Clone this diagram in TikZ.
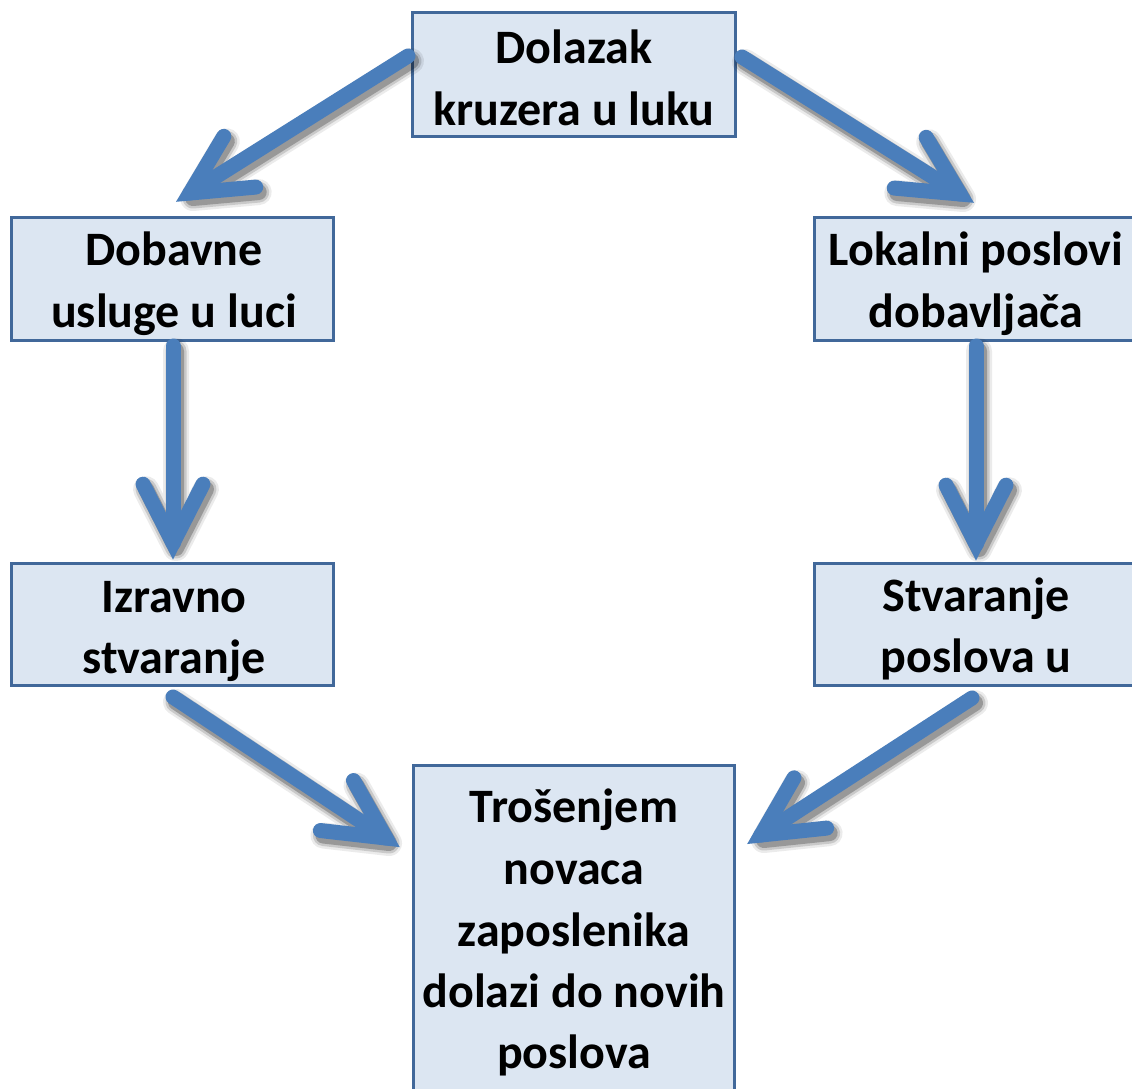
\documentclass[tikz,border=0pt]{standalone}
\usepackage{fontspec}
\setmainfont{Carlito}
\usetikzlibrary{calc}
\definecolor{boxfill}{HTML}{DCE6F2}
\definecolor{boxline}{HTML}{41689A}
\definecolor{arrblue}{HTML}{4A7EBB}
\tikzset{
  box/.style={draw=boxline, line width=3pt, fill=boxfill, inner sep=0pt, rectangle},
  lbl/.style={font=\bfseries\fontsize{48}{62}\selectfont, anchor=base, inner sep=0pt, text=black},
  arr/.style={draw=arrblue, line width=15pt, line cap=round, line join=miter},
  shad/.style={draw=black, line cap=round, line join=round},
}
\newcommand\fatarrow[2]{%
  \foreach \w/\o in {26/0.08,21/0.14,16/0.24}{%
    \draw[shad, line width=\w pt, opacity=\o, transform canvas={shift={(3pt,-5pt)}}]
      (#1) -- (#2) ($(#2)!66pt!27:(#1)$) -- (#2) -- ($(#2)!66pt!-27:(#1)$);}
  \draw[arr] (#1) -- (#2);
  \draw[arr] ($(#2)!66pt!27:(#1)$) -- (#2) -- ($(#2)!66pt!-27:(#1)$);
}
\begin{document}
\begin{tikzpicture}[x=1pt,y=-1pt]
\useasboundingbox (0,0) rectangle (1132,1088);
\clip (0,0) rectangle (1132,1088);
\fill[white] (0,0) rectangle (1132,1088);

% boxes
\node[box, minimum width=323pt, minimum height=124pt] (top) at (573.5,74.5) {};
\node[box, minimum width=322pt, minimum height=123pt] (dob) at (172,278.5) {};
\node[box, minimum width=322pt, minimum height=122pt] (izr) at (172,624) {};
\node[box, minimum width=330pt, minimum height=123pt] (lok) at (979,278.5) {};
\node[box, minimum width=330pt, minimum height=122pt] (stv) at (979,624) {};
\node[box, minimum width=321pt, minimum height=345pt] (bot) at (573.5,937.5) {};

% texts
\node[lbl] (topa) at (574,63) {Dolazak};
\node[lbl] (topb) at (574,125) {kruzera u luku};
\node[lbl] (doba) at (174,265) {Dobavne};
\node[lbl] (dobb) at (174,327) {usluge u luci};
\node[lbl] (izra) at (174,612) {Izravno};
\node[lbl] (izrb) at (174,673) {stvaranje};
\node[lbl] (loka) at (976,265) {Lokalni poslovi};
\node[lbl] (lokb) at (976,327) {dobavljača};
\node[lbl] (stva) at (976,611) {Stvaranje};
\node[lbl] (stvb) at (976,672) {poslova u};
\node[lbl] (bota) at (574,822) {Trošenjem};
\node[lbl] (botb) at (574,884) {novaca};
\node[lbl] (botc) at (574,946) {zaposlenika};
\node[lbl] (botd) at (574,1007) {dolazi do novih};
\node[lbl] (bote) at (574,1068) {poslova};

% arrow end points
\coordinate (a1s) at (408,56);  \coordinate (a1t) at (190,193);
\coordinate (a2s) at (742,57);  \coordinate (a2t) at (960,194);
\coordinate (a3s) at (173,346); \coordinate (a3t) at (173,543);
\coordinate (a4s) at (976,346); \coordinate (a4t) at (976,544);
\coordinate (a5s) at (173,697); \coordinate (a5t) at (386,838);
\coordinate (a6s) at (972,698); \coordinate (a6t) at (761,835);

\fatarrow{a1s}{a1t}
\fatarrow{a2s}{a2t}
\fatarrow{a3s}{a3t}
\fatarrow{a4s}{a4t}
\fatarrow{a5s}{a5t}
\fatarrow{a6s}{a6t}
\end{tikzpicture}
\end{document}
